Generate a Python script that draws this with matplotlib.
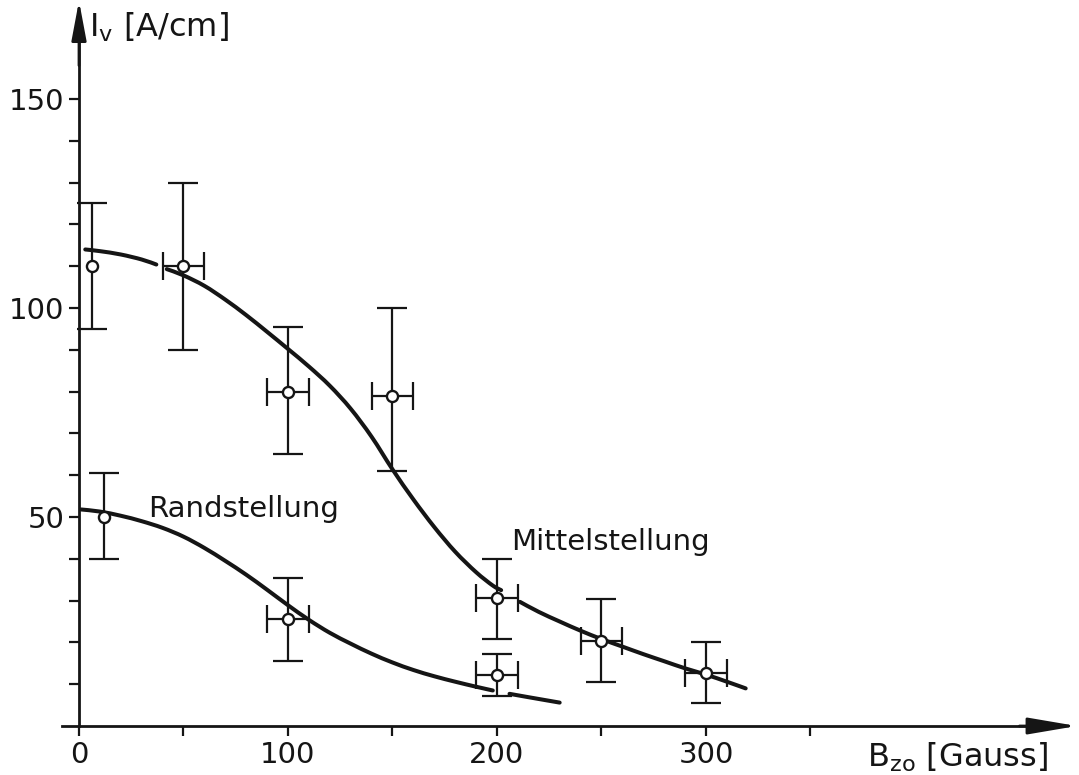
import numpy as np
import matplotlib
matplotlib.use("Agg")
import matplotlib.pyplot as plt
from matplotlib.path import Path
from matplotlib.patches import PathPatch

# --- measurements: field B_zo [Gauss] vs. current I_v [A/cm] ---
mittel_b = [6, 50, 100, 150, 200, 250, 300]
mittel_i = [110, 110, 80, 79, 30.6, 20.3, 12.7]
mittel_i_lo = [95, 90, 65, 61, 20.8, 10.5, 5.5]
mittel_i_hi = [125, 130, 95.5, 100, 40, 30.4, 20.1]
mittel_b_err = [np.nan, 10, 10, 10, 10, 10, 10]

rand_b = [12, 100, 200]
rand_i = [50, 25.5, 12.2]
rand_i_lo = [40, 15.5, 7.2]
rand_i_hi = [60.5, 35.5, 17.2]
rand_b_err = [np.nan, 10, 10]

# hand-drawn fit curves (nan = break in the stroke around an error bar cap)
mittel_fit_b = [3, 10, 20, 30, 37, np.nan, 42, 50, 60, 70, 80, 90, 100, 110, 120,
                130, 140, 150, 160, 170, 180, 190, 198, 202, np.nan, 211, 220,
                230, 240, 250, 260, 270, 280, 290, 300, 310, 319]
mittel_fit_i = [114, 113.6, 112.8, 111.6, 110.4, np.nan, 109.3, 107.8, 105.3, 102,
                98.3, 94.3, 90.2, 86.0, 81.4, 75.9, 69.2, 61.4, 54.2, 47.6, 41.7,
                36.8, 33.6, 32.5, np.nan, 29.7, 27.3, 25, 22.8, 20.8, 19, 17.2,
                15.5, 13.8, 12.3, 10.6, 9]

rand_fit_b = [1, 10, 20, 30, 40, 50, 60, 70, 80, 90, 100, 110, 120, 130, 140, 150,
              160, 170, 180, 190, 198, np.nan, 206, 215, 230]
rand_fit_i = [51.8, 51.3, 50.3, 49, 47.4, 45.3, 42.6, 39.5, 36.2, 32.6, 28.9, 25.4,
              22.3, 19.7, 17.3, 15.2, 13.4, 11.9, 10.6, 9.4, 8.5, np.nan, 7.7, 6.9,
              5.6]

y_major = [50, 100, 150]
y_minor = [10, 20, 30, 40, 60, 70, 80, 90, 110, 120, 130, 140]
x_major = [0, 100, 200, 300]
x_major_labels = ["0", "100", "200", "300"]
x_minor = [50, 150, 250, 350]

INK = "#151515"
FS = 21


def smooth_stroke(xs, ys):
    """Path through the given points, drawn as Catmull-Rom Bezier pieces;
    nan entries split the stroke."""
    xs = np.asarray(xs, float)
    ys = np.asarray(ys, float)
    verts, codes = [], []
    breaks = np.where(np.isnan(xs))[0]
    starts = np.r_[0, breaks + 1]
    ends = np.r_[breaks, len(xs)]
    for s, e in zip(starts, ends):
        p = np.column_stack([xs[s:e], ys[s:e]])
        n = len(p)
        if n < 2:
            continue
        ext = np.vstack([p[0], p, p[-1]])
        verts.append(p[0])
        codes.append(Path.MOVETO)
        for k in range(n - 1):
            p0, p1, p2, p3 = ext[k], ext[k + 1], ext[k + 2], ext[k + 3]
            verts += [p1 + (p2 - p0) / 6, p2 - (p3 - p1) / 6, p2]
            codes += [Path.CURVE4] * 3
    return Path(verts, codes)


fig = plt.figure(figsize=(10.79, 7.75), dpi=100)
ax = fig.add_axes([0, 0, 1, 1])
ax.set_xlim(-37.8, 478.5)
ax.set_ylim(-11.72, 173.68)
ax.patch.set_visible(False)

# axes drawn as arrows through the origin
for side in ("top", "right"):
    ax.spines[side].set_visible(False)
ax.spines["left"].set_position(("data", 0))
ax.spines["bottom"].set_position(("data", 0))
ax.spines["left"].set_bounds(0, 164)
ax.spines["bottom"].set_bounds(-8, 466)
for side in ("left", "bottom"):
    ax.spines[side].set_linewidth(2.0)
    ax.spines[side].set_color(INK)

ax.annotate("", xy=(0, 173.5), xytext=(0, 158),
            arrowprops=dict(arrowstyle="-|>,head_length=1.6,head_width=0.3",
                            lw=2, color=INK, mutation_scale=15,
                            shrinkA=0, shrinkB=0))
ax.annotate("", xy=(477.5, 0), xytext=(450, 0),
            arrowprops=dict(arrowstyle="-|>,head_length=2.0,head_width=0.34",
                            lw=2, color=INK, mutation_scale=15,
                            shrinkA=0, shrinkB=0))

ax.set_yticks(y_major)
ax.set_yticks(y_minor, minor=True)
ax.set_xticks(x_major, x_major_labels)
ax.set_xticks(x_minor, minor=True)
ax.tick_params(which="both", direction="out", length=7.5, width=1.6,
               color=INK, labelcolor=INK, labelsize=FS)
ax.tick_params(axis="y", which="both", pad=3)
ax.tick_params(axis="x", which="both", pad=3)

# fit curves
for fb, fi in ((mittel_fit_b, mittel_fit_i), (rand_fit_b, rand_fit_i)):
    ax.add_patch(PathPatch(smooth_stroke(fb, fi), fill=False, edgecolor=INK,
                           lw=2.9, capstyle="round", zorder=2))

# measured points with error bars
for b, i, lo, hi, be in ((mittel_b, mittel_i, mittel_i_lo, mittel_i_hi, mittel_b_err),
                         (rand_b, rand_i, rand_i_lo, rand_i_hi, rand_b_err)):
    b = np.asarray(b, float)
    i = np.asarray(i, float)
    yerr = np.vstack([i - np.asarray(lo), np.asarray(hi) - i])
    ax.errorbar(b, i, yerr=yerr, fmt="none", ecolor=INK, elinewidth=1.6,
                capsize=11, capthick=1.6, zorder=3)
    be = np.asarray(be, float)
    has_x = ~np.isnan(be)
    ax.errorbar(b[has_x], i[has_x], xerr=be[has_x], fmt="none", ecolor=INK,
                elinewidth=1.6, capsize=10, capthick=1.6, zorder=3)
    ax.plot(b, i, "o", ms=8, mfc="white", mec=INK, mew=1.7, zorder=4)

ax.text(33, 50, "Randstellung", fontsize=FS, color=INK, ha="left", va="baseline")
ax.text(207, 42, "Mittelstellung", fontsize=FS, color=INK, ha="left", va="baseline")

ax.text(5, 165, r"$\mathregular{I_v}$ [A/cm]", fontsize=23, color=INK,
        ha="left", va="baseline")
ax.text(377, -9.8, r"$\mathregular{B_{zo}}$ [Gauss]", fontsize=23, color=INK,
        ha="left", va="baseline")

fig.savefig("out.png", dpi=100, facecolor="white")
